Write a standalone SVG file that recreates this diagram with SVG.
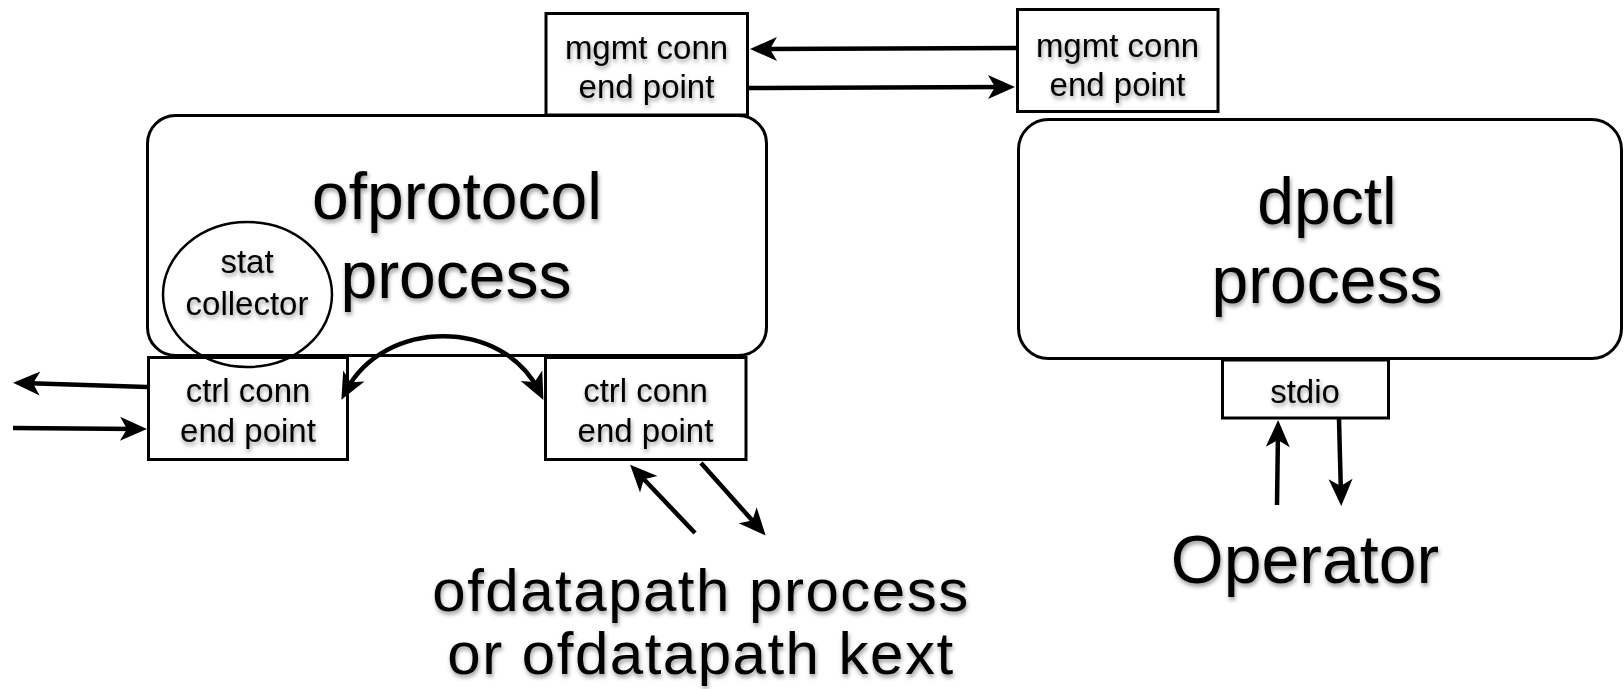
<svg xmlns="http://www.w3.org/2000/svg" width="1624" height="689" viewBox="0 0 1624 689">
<style>
  .proc { fill: #fff; stroke: #000; stroke-width: 3; }
  .box { fill: #fff; stroke: #000; stroke-width: 3; }
  .ell { fill: none; stroke: #000; stroke-width: 2.5; }
  .conn { fill: none; stroke: #000; stroke-width: 4.5; marker-end: url(#arrow); }
  .both { marker-start: url(#arrow); }
  text { font-family: "Liberation Sans", Arial, sans-serif; fill: #000; text-anchor: middle; filter: url(#shadow); }
  .sm { font-size: 33px; }
  .lg { font-size: 66px; }
  .xl { font-size: 60px; letter-spacing: 1.5px; }
</style>
<defs>
  <marker id="arrow" markerUnits="userSpaceOnUse" orient="auto-start-reverse" viewBox="-20 -14 32 28" refX="0" refY="0" markerWidth="32" markerHeight="28">
    <path d="M10,0 L-17,-12 L-10,0 L-17,12 Z" fill="#000"/>
  </marker>
  <filter id="shadow" x="-10%" y="-20%" width="120%" height="150%">
    <feDropShadow dx="1" dy="3" stdDeviation="2.2" flood-color="#000" flood-opacity="0.4"/>
  </filter>
</defs>

<g id="ofprotocol">
  <rect class="proc" x="147.5" y="115.5" width="619" height="240" rx="28" ry="28"/>
  <text class="lg" x="457" y="219">ofprotocol</text>
  <text class="lg" x="456" y="298">process</text>
</g>

<g id="dpctl">
  <rect class="proc" x="1018.5" y="119.5" width="603" height="239" rx="30" ry="30"/>
  <text class="lg" x="1327" y="224">dpctl</text>
  <text class="lg" x="1327" y="303">process</text>
</g>

<g id="mgmt-left">
  <rect class="box" x="546" y="13.5" width="201.5" height="101.5"/>
  <text class="sm" x="646.5" y="59">mgmt conn</text>
  <text class="sm" x="646.5" y="98">end point</text>
</g>

<g id="mgmt-right">
  <rect class="box" x="1017.5" y="9.5" width="200.5" height="102"/>
  <text class="sm" x="1117.5" y="57">mgmt conn</text>
  <text class="sm" x="1117.5" y="96">end point</text>
</g>

<g id="ctrl-left">
  <rect class="box" x="148.5" y="357.5" width="199" height="102"/>
  <text class="sm" x="248" y="402">ctrl conn</text>
  <text class="sm" x="248" y="442">end point</text>
</g>

<g id="ctrl-right">
  <rect class="box" x="545.5" y="357.5" width="200.5" height="102"/>
  <text class="sm" x="645.5" y="402">ctrl conn</text>
  <text class="sm" x="645.5" y="442">end point</text>
</g>

<g id="stdio">
  <rect class="box" x="1222.5" y="360" width="166" height="58"/>
  <text class="sm" x="1305" y="403">stdio</text>
</g>

<g id="stat-collector">
  <ellipse class="ell" cx="247.5" cy="294.5" rx="84.5" ry="72.5"/>
  <text class="sm" x="247" y="273">stat</text>
  <text class="sm" x="247" y="315">collector</text>
</g>

<g id="ofdatapath">
  <text class="xl" x="701" y="611">ofdatapath process</text>
  <text class="xl" x="701" y="674">or ofdatapath kext</text>
</g>

<g id="operator">
  <text style="font-size:68px" x="1305" y="583">Operator</text>
</g>

<g id="connectors">
  <line class="conn" x1="1017" y1="48" x2="760" y2="49"/>
  <line class="conn" x1="748" y1="88" x2="1005" y2="87"/>
  <line class="conn" x1="147" y1="387" x2="23" y2="383"/>
  <line class="conn" x1="13" y1="428" x2="137" y2="429"/>
  <path class="conn both" d="M346,391 C384,318 503,318 539,391"/>
  <line class="conn" x1="695" y1="533" x2="637" y2="472"/>
  <line class="conn" x1="701" y1="463" x2="759" y2="528"/>
  <line class="conn" x1="1277" y1="505" x2="1278" y2="430"/>
  <line class="conn" x1="1339" y1="419" x2="1341" y2="496"/>
</g>
</svg>
